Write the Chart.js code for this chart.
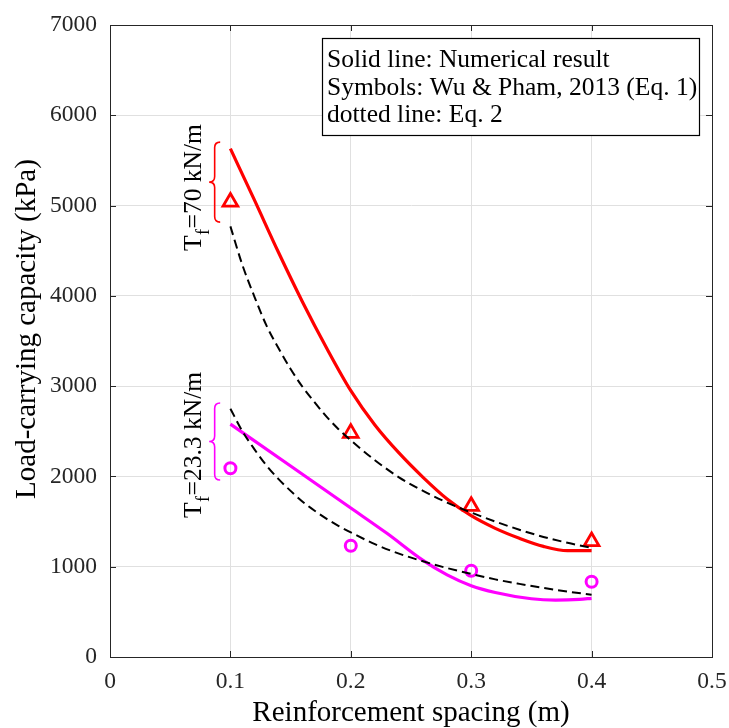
<!DOCTYPE html>
<html>
<head>
<meta charset="utf-8">
<script src="https://cdn.jsdelivr.net/npm/chart.js@4.4.1/dist/chart.umd.min.js"></script>
<style>
  html, body { margin: 0; padding: 0; background: #ffffff; }
  #wrap { width: 729px; height: 728px; }
</style>
</head>
<body>
<div id="wrap"><canvas id="c" width="729" height="728"></canvas></div>
<script>
// ---------- data ----------
const xTicks = [0, 0.1, 0.2, 0.3, 0.4, 0.5];
const yTicks = [0, 1000, 2000, 3000, 4000, 5000, 6000, 7000];

// Numerical result, T_f = 70 kN/m (red solid)
const num70X = [0.1, 0.12, 0.14, 0.16, 0.18, 0.2, 0.22, 0.24, 0.26, 0.28, 0.3, 0.32, 0.34, 0.36, 0.38, 0.4];
const num70Y = [5630, 5060, 4480, 3930, 3420, 2950, 2570, 2260, 1990, 1750, 1565, 1425, 1315, 1225, 1178, 1178];

// Numerical result, T_f = 23.3 kN/m (magenta solid)
const num23X = [0.1, 0.15, 0.2, 0.23, 0.26, 0.28, 0.3, 0.32, 0.35, 0.37, 0.39, 0.4];
const num23Y = [2580, 2115, 1650, 1370, 1070, 910, 790, 715, 645, 630, 638, 650];

// Eq. 2 (black dashed)
const eqX = [0.1, 0.11, 0.12, 0.13, 0.14, 0.15, 0.16, 0.17, 0.18, 0.19, 0.2, 0.22, 0.24, 0.26, 0.28, 0.3, 0.32, 0.34, 0.36, 0.38, 0.4];
const eq70Y = [4770, 4340, 3990, 3670, 3420, 3190, 2990, 2820, 2660, 2520, 2400, 2180, 1990, 1840, 1710, 1600, 1500, 1410, 1330, 1265, 1210];
const eq23Y = [2750, 2500, 2300, 2120, 1970, 1840, 1720, 1620, 1530, 1450, 1380, 1250, 1145, 1060, 985, 920, 860, 810, 765, 725, 690];

// Wu & Pham, 2013 (Eq. 1) symbols
const symX = [0.1, 0.2, 0.3, 0.4];
const wu70Y = [5040, 2480, 1670, 1280];
const wu23Y = [2090, 1233, 956, 834];

// Annotation text
const legendLines = ['Solid line: Numerical result', 'Symbols: Wu & Pham, 2013 (Eq. 1)', 'dotted line: Eq. 2'];
const annotLead = ['T', 'T'];
const annotSub = ['f', 'f'];
const annotRest = ['=70 kN/m', '=23.3 kN/m'];
const annotColors = ['#ff0000', '#ff00ff'];
const braceTop = [5703, 2813];
const braceBottom = [4817, 1960];
const annotStartY = [4496, 1540];

const xTitle = 'Reinforcement spacing (m)';
const yTitle = 'Load-carrying capacity (kPa)';

// ---------- helpers ----------
const zip = (xs, ys) => xs.map((x, i) => ({ x: x, y: ys[i] }));
const SERIF = "'Liberation Serif', 'Times New Roman', serif";
const AXIS_COLOR = '#262626';
const GRID_COLOR = '#e0e0e0';

const overlayPlugin = {
  id: 'overlay',
  afterDatasetsDraw(chart) {
    const ctx = chart.ctx;
    const a = chart.chartArea;
    const xs = chart.scales.x, ys = chart.scales.y;
    ctx.save();
    // axes box
    ctx.strokeStyle = AXIS_COLOR;
    ctx.lineWidth = 1;
    ctx.strokeRect(Math.round(a.left) + 0.5, Math.round(a.top) + 0.5,
                   Math.round(a.right - a.left), Math.round(a.bottom - a.top));
    // inward ticks on all four sides
    const tl = 6;
    ctx.beginPath();
    xTicks.forEach(v => {
      const px = Math.round(xs.getPixelForValue(v)) + 0.5;
      ctx.moveTo(px, a.bottom); ctx.lineTo(px, a.bottom - tl);
      ctx.moveTo(px, a.top); ctx.lineTo(px, a.top + tl);
    });
    yTicks.forEach(v => {
      const py = Math.round(ys.getPixelForValue(v)) + 0.5;
      ctx.moveTo(a.left, py); ctx.lineTo(a.left + tl, py);
      ctx.moveTo(a.right, py); ctx.lineTo(a.right - tl, py);
    });
    ctx.stroke();

    // y axis title (rotated, drawn as text)
    ctx.save();
    ctx.translate(27, (a.top + a.bottom) / 2 - 12);
    ctx.rotate(-Math.PI / 2);
    ctx.fillStyle = '#000000';
    ctx.font = '29px ' + SERIF;
    ctx.textAlign = 'center';
    ctx.textBaseline = 'middle';
    ctx.fillText(yTitle, 0, 0);
    ctx.restore();

    // legend-like text box
    const bx = a.left + 212, by = a.top + 13, bw = 377, bh = 97;
    ctx.fillStyle = '#ffffff';
    ctx.fillRect(bx, by, bw, bh);
    ctx.strokeStyle = '#000000';
    ctx.lineWidth = 1.2;
    ctx.strokeRect(bx + 0.5, by + 0.5, bw, bh);
    ctx.fillStyle = '#000000';
    ctx.font = '25.5px ' + SERIF;
    ctx.textBaseline = 'alphabetic';
    ctx.textAlign = 'left';
    legendLines.forEach((t, i) => ctx.fillText(t, bx + 5, by + 29 + i * 27.5));

    // braces and rotated labels
    for (let i = 0; i < annotLead.length; i++) {
      const xr = xs.getPixelForValue(0.0915);
      const yt = ys.getPixelForValue(braceTop[i]);
      const yb = ys.getPixelForValue(braceBottom[i]);
      const ym = (yt + yb) / 2;
      const d = 11, h = d / 2;
      ctx.strokeStyle = annotColors[i];
      ctx.lineWidth = 1.6;
      ctx.beginPath();
      ctx.moveTo(xr, yt);
      ctx.quadraticCurveTo(xr - h, yt, xr - h, yt + h);
      ctx.lineTo(xr - h, ym - h);
      ctx.quadraticCurveTo(xr - h, ym, xr - d, ym);
      ctx.quadraticCurveTo(xr - h, ym, xr - h, ym + h);
      ctx.lineTo(xr - h, yb - h);
      ctx.quadraticCurveTo(xr - h, yb, xr, yb);
      ctx.stroke();

      // rotated text: reads bottom to top
      const bxl = xs.getPixelForValue(0.0757);
      const byl = ys.getPixelForValue(annotStartY[i]);
      ctx.save();
      ctx.translate(bxl, byl);
      ctx.rotate(-Math.PI / 2);
      ctx.fillStyle = '#000000';
      ctx.textBaseline = 'alphabetic';
      ctx.font = '25.5px ' + SERIF;
      ctx.fillText(annotLead[i], 0, 0);
      let off = ctx.measureText(annotLead[i]).width;
      ctx.font = '18px ' + SERIF;
      ctx.fillText(annotSub[i], off + 0.5, 8);
      off += ctx.measureText(annotSub[i]).width + 1;
      ctx.font = '25.5px ' + SERIF;
      ctx.fillText(annotRest[i], off, 0);
      ctx.restore();
    }
    ctx.restore();
  }
};

const lineDs = (label, data, color, width, dash) => ({
  label: label, data: data, showLine: true, borderColor: color, backgroundColor: color,
  borderWidth: width, borderDash: dash || [], pointRadius: 0, pointHoverRadius: 0,
  tension: 0, cubicInterpolationMode: 'monotone', fill: false
});
const symDs = (label, data, color, style, r, bw) => ({
  label: label, data: data, showLine: false, borderColor: color,
  backgroundColor: 'rgba(0,0,0,0)', pointStyle: style, pointRadius: r,
  pointHoverRadius: r, pointBorderWidth: bw, borderWidth: bw
});

new Chart(document.getElementById('c'), {
  type: 'scatter',
  data: {
    datasets: [
      lineDs('Eq. 2 (70 kN/m)', zip(eqX, eq70Y), '#000000', 2, [9, 5]),
      lineDs('Eq. 2 (23.3 kN/m)', zip(eqX, eq23Y), '#000000', 2, [9, 5]),
      lineDs('Numerical (70 kN/m)', zip(num70X, num70Y), '#ff0000', 3.2),
      lineDs('Numerical (23.3 kN/m)', zip(num23X, num23Y), '#ff00ff', 3.2),
      symDs('Wu & Pham (70 kN/m)', zip(symX, wu70Y), '#ff0000', 'triangle', 8.5, 2.8),
      symDs('Wu & Pham (23.3 kN/m)', zip(symX, wu23Y), '#ff00ff', 'circle', 5.5, 3)
    ]
  },
  options: {
    responsive: false,
    animation: false,
    devicePixelRatio: 1,
    layout: { padding: { left: 0, right: 17, top: 25, bottom: 0 } },
    plugins: { legend: { display: false }, tooltip: { enabled: false } },
    scales: {
      x: {
        type: 'linear', min: 0, max: 0.5,
        afterBuildTicks: s => { s.ticks = xTicks.map(v => ({ value: v })); },
        afterFit: s => { s.height = 71; s.paddingLeft = 0; s.paddingRight = 0; },
        ticks: {
          color: AXIS_COLOR, padding: 11,
          font: { family: SERIF, size: 23.5 },
          callback: v => (v === 0 ? '0' : String(Math.round(v * 10) / 10))
        },
        grid: { color: GRID_COLOR, drawTicks: false, lineWidth: 1 },
        border: { display: true, color: AXIS_COLOR },
        title: { display: true, text: xTitle, color: '#000000',
                 font: { family: SERIF, size: 29, lineHeight: 1 }, padding: { top: 0, bottom: 0 } }
      },
      y: {
        type: 'linear', min: 0, max: 7000,
        afterBuildTicks: s => { s.ticks = yTicks.map(v => ({ value: v })); },
        afterFit: s => { s.width = 110; s.paddingTop = 0; s.paddingBottom = 0; },
        ticks: {
          color: AXIS_COLOR, padding: 13,
          font: { family: SERIF, size: 23.5 },
          callback: v => String(v)
        },
        grid: { color: GRID_COLOR, drawTicks: false, lineWidth: 1 },
        border: { display: true, color: AXIS_COLOR },
        title: { display: false }
      }
    }
  },
  plugins: [overlayPlugin]
});
</script>
</body>
</html>
